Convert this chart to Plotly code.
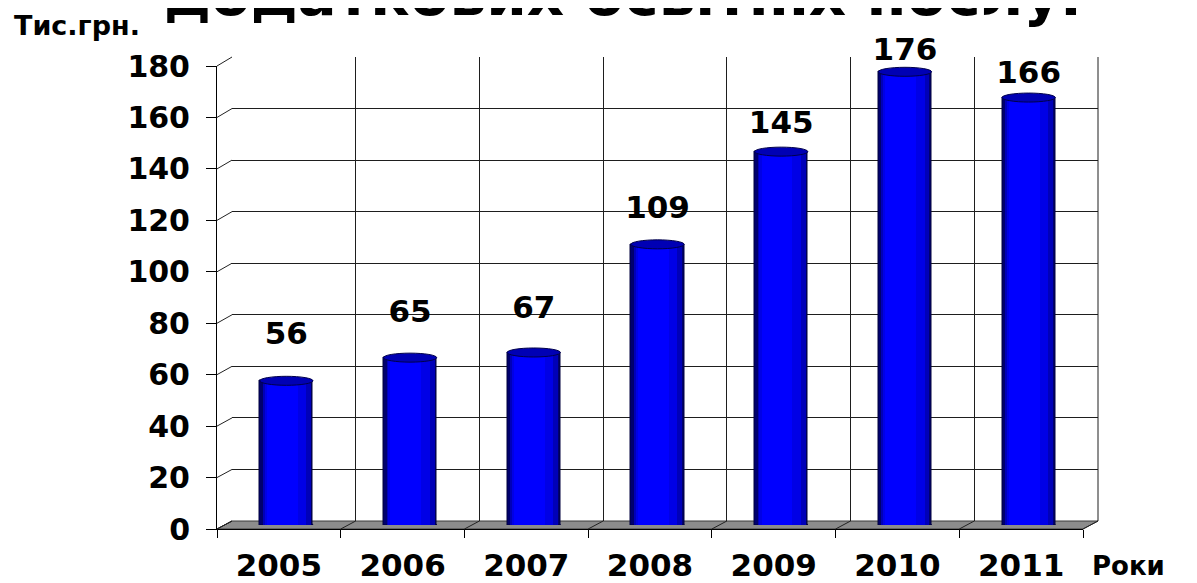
import plotly.graph_objects as go

# ---------------- data ----------------
years = ["2005", "2006", "2007", "2008", "2009", "2010", "2011"]
values = [56, 65, 67, 109, 145, 176, 166]
y_ticks = [0, 20, 40, 60, 80, 100, 120, 140, 160, 180]
title_text = "додаткових освітніх послуг"
y_title = "Тис.грн."
x_title = "Роки"

# ---------------- geometry (pixels, reference frame) ----------------
OFF = 8                       # page body margin
W, H = 1197 - OFF, 583 - OFF  # figure size
def px(x):
    return (x - OFF) / W
def py(y):
    return 1 - (y - OFF) / H

BACK = (232, 1098, 521, 57)    # x0, x1, y_bottom, y_top
FRONT = (217, 1083, 529, 66)
MID = ((BACK[0] + FRONT[0]) / 2, (BACK[1] + FRONT[1]) / 2,
       (BACK[2] + FRONT[2]) / 2, (BACK[3] + FRONT[3]) / 2)
LABEL = (468.5, 42.4)          # pixel y of 0 and 180 for label placement
YMAX = 180

FONT = "DejaVu Sans"
BAR_W = 0.43

fig = go.Figure()

# anchoring traces (invisible) so category axes know their categories
fig.add_trace(go.Scatter(x=years, y=values, mode="markers", marker=dict(opacity=0),
                         hoverinfo="skip", showlegend=False, xaxis="x", yaxis="y"))
fig.add_trace(go.Scatter(x=years, y=values, mode="markers", marker=dict(opacity=0),
                         hoverinfo="skip", showlegend=False, xaxis="x2", yaxis="y2"))

# cylinder bars: layered bars to fake shading
layers = [
    (0.00, 1.00, "#00006E", dict(color="#00003C", width=1)),
    (0.05, 0.95, "#0000B8", dict(width=0)),
    (0.08, 0.86, "#0000E6", dict(width=0)),
    (0.12, 0.70, "#0000FF", dict(width=0)),
]
for a, b, col, ln in layers:
    fig.add_trace(go.Bar(
        x=years, y=values, xaxis="x3", yaxis="y3",
        width=BAR_W * (b - a), offset=-BAR_W / 2 + BAR_W * a,
        marker=dict(color=col, line=ln), hoverinfo="skip", showlegend=False))

# value labels
fig.add_trace(go.Scatter(
    x=years, y=values, xaxis="x3", yaxis="y4", mode="text",
    text=[str(v) for v in values], textposition="middle center",
    textfont=dict(family=FONT, size=31, color="#000000", weight="bold"),
    hoverinfo="skip", showlegend=False, cliponaxis=False))

shapes = []
# floor
shapes.append(dict(
    type="path", xref="paper", yref="paper", layer="below",
    path=f"M {px(BACK[0])} {py(BACK[2])} L {px(BACK[1])} {py(BACK[2])} "
         f"L {px(FRONT[1])} {py(FRONT[2])} L {px(FRONT[0])} {py(FRONT[2])} Z",
    fillcolor="#8C8C8C", line=dict(color="#3A3A3A", width=1)))
# right edge of back wall
shapes.append(dict(type="line", xref="paper", yref="paper", layer="below",
                   x0=px(BACK[1]), y0=py(BACK[2]), x1=px(BACK[1]), y1=py(BACK[3]),
                   line=dict(color="#1E1E1E", width=1)))

# connectors from front axis ticks to back wall
for v in y_ticks:
    yf = FRONT[2] - (FRONT[2] - FRONT[3]) * v / YMAX
    yb = BACK[2] - (BACK[2] - BACK[3]) * v / YMAX
    shapes.append(dict(type="line", xref="paper", yref="paper", layer="above",
                       x0=px(FRONT[0]), y0=py(yf), x1=px(BACK[0]), y1=py(yb),
                       line=dict(color="#222222", width=1)))
n = len(years)
for i in range(n + 1):
    xf = FRONT[0] + (FRONT[1] - FRONT[0]) * i / n
    xb = BACK[0] + (BACK[1] - BACK[0]) * i / n
    shapes.append(dict(type="line", xref="paper", yref="paper", layer="above",
                       x0=px(xf), y0=py(FRONT[2]), x1=px(xb), y1=py(BACK[2]),
                       line=dict(color="#222222", width=1)))

# cylinder caps (top) and rounded bottoms
e = 4.5 * YMAX / (MID[2] - MID[3])
for i, v in enumerate(values):
    shapes.append(dict(type="circle", xref="x3", yref="y3", layer="above",
                       x0=i - BAR_W / 2, x1=i + BAR_W / 2, y0=v - e, y1=v + e,
                       fillcolor="#0000B4", line=dict(color="#00004A", width=1)))
    shapes.append(dict(type="circle", xref="x3", yref="y3", layer="between",
                       x0=i - BAR_W / 2, x1=i + BAR_W / 2, y0=-e, y1=e,
                       fillcolor="#0000D0", line=dict(color="#00003C", width=1)))

annotations = [
    dict(text=title_text, xref="paper", yref="paper", x=px(627), y=py(31),
         xanchor="center", yanchor="bottom", showarrow=False,
         font=dict(family=FONT, size=58, color="#000000", weight="bold")),
    dict(text=y_title, xref="paper", yref="paper", x=px(12), y=py(43),
         xanchor="left", yanchor="bottom", showarrow=False,
         font=dict(family=FONT, size=27, color="#000000", weight="bold")),
    dict(text=x_title, xref="paper", yref="paper", x=px(1090), y=py(583),
         xanchor="left", yanchor="bottom", showarrow=False,
         font=dict(family=FONT, size=26, color="#000000", weight="bold")),
]

cat_common = dict(type="category", categoryorder="array", categoryarray=years,
                  range=[-0.5, n - 0.5], automargin=False, fixedrange=True)
lin_common = dict(range=[0, YMAX], automargin=False, fixedrange=True, zeroline=False)

fig.update_layout(
    template="none",
    width=W, height=H, autosize=False,
    margin=dict(l=0, r=0, t=0, b=0, pad=0),
    paper_bgcolor="#FFFFFF", plot_bgcolor="rgba(0,0,0,0)",
    barmode="overlay", bargap=0,
    showlegend=False,
    shapes=shapes, annotations=annotations,
    # back wall
    xaxis=dict(**cat_common, domain=[px(BACK[0]), px(BACK[1])], anchor="y",
               tickson="boundaries", showgrid=True, gridcolor="#1E1E1E", gridwidth=1,
               showticklabels=False, ticks="", showline=False),
    yaxis=dict(**lin_common, domain=[py(BACK[2]), py(BACK[3])], anchor="x",
               tickvals=y_ticks, showgrid=True, gridcolor="#1E1E1E", gridwidth=1,
               showticklabels=False, ticks="", showline=False),
    # front axes
    xaxis2=dict(**cat_common, domain=[px(FRONT[0]), px(FRONT[1])], anchor="y2",
                tickson="boundaries", showgrid=False, ticks="outside", ticklen=8,
                tickwidth=1, tickcolor="#000000", showline=True, linecolor="#000000",
                linewidth=1, ticklabelstandoff=9,
                tickfont=dict(family=FONT, size=31, color="#000000", weight="bold")),
    yaxis2=dict(**lin_common, domain=[py(FRONT[2]), py(FRONT[3])], anchor="x2",
                tickvals=y_ticks, showgrid=False, ticks="outside", ticklen=10,
                tickwidth=1, tickcolor="#000000", showline=True, linecolor="#000000",
                linewidth=1, ticklabelstandoff=10,
                tickfont=dict(family=FONT, size=30, color="#000000", weight="bold")),
    # bar (middle-depth) axes
    xaxis3=dict(**cat_common, domain=[px(MID[0]), px(MID[1])], anchor="y3", visible=False),
    yaxis3=dict(**lin_common, domain=[py(MID[2]), py(MID[3])], anchor="x3", visible=False),
    # label placement axis
    yaxis4=dict(**lin_common, domain=[py(LABEL[0]), py(LABEL[1])], anchor="x3", visible=False),
)

fig.write_html("out.html")
